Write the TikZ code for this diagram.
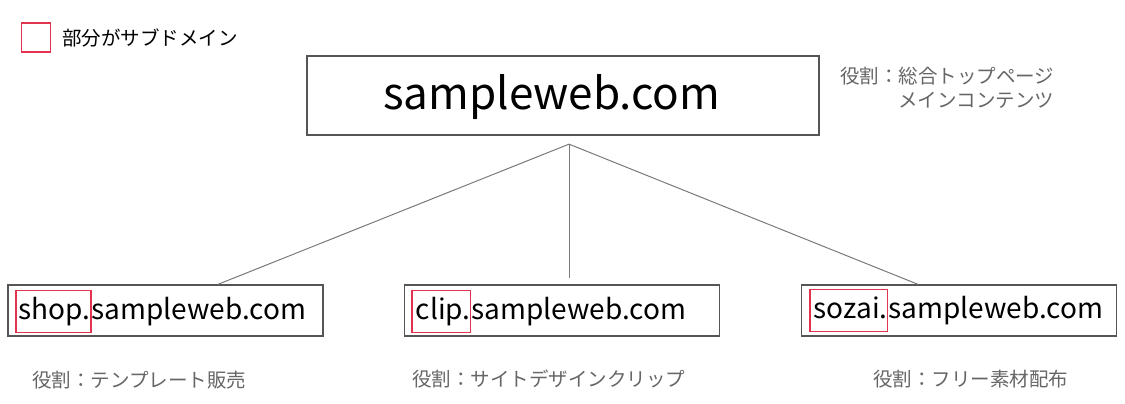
\documentclass[tikz,border=0pt]{standalone}
\usepackage{fontspec}
\setmainfont{Noto Sans CJK JP}
\usetikzlibrary{positioning}
\definecolor{subred}{HTML}{E3344F}
\definecolor{framegray}{HTML}{555555}
\definecolor{linkgray}{HTML}{7A7A7A}
\definecolor{notegray}{HTML}{666666}
\begin{document}
\begin{tikzpicture}[x=1pt,y=-1pt,
		sitebox/.style={draw=framegray,line width=1.3pt,minimum width=315pt,minimum height=51pt,inner sep=0pt},
		link/.style={draw=linkgray,line width=1pt},
		note/.style={text=notegray,inner sep=0pt,font=\fontsize{19.5}{24}\selectfont},
		subpart/.style={draw=subred,line width=1.6pt,inner xsep=0pt,inner ysep=0pt,minimum height=42pt,font=\fontsize{28}{34}\selectfont},
		domaintext/.style={inner sep=0pt,font=\fontsize{28}{34}\selectfont}]
		\useasboundingbox[fill=white] (0,0) rectangle (1125,404);
		% legend
		\node[draw=subred,line width=1.6pt,minimum size=29pt,inner sep=0pt] (key) at (36,37.5) {};
		\node[anchor=west,inner sep=0pt,font=\fontsize{19.5}{24}\selectfont] (keytext) at (62,38) {部分がサブドメイン};
		% main site
		\node[draw=framegray,line width=1.3pt,minimum width=512pt,minimum height=79pt,inner sep=0pt] (main) at (563,95.5) {};
		\node[anchor=base west,inner sep=0pt,font=\fontsize{44}{52}\selectfont] (maintext) at (383,109.5) {sampleweb.com};
		\node[note,anchor=west,align=right] (mainrole) at (840,88) {役割：総合トップページ\\メインコンテンツ};
		\coordinate (hub) at ([xshift=6pt,yshift=-8.5pt]main.south);
		% sub sites
		\node[sitebox] (shopbox) at (165.5,310.5) {};
		\node[sitebox] (clipbox) at (562,310.5) {};
		\node[sitebox] (sozaibox) at (959,310.5) {};
		\node[subpart,anchor=base west] (shop) at (15,319.5) {\kern3pt shop.\vphantom{hp}};
		\node[domaintext,anchor=base west] (shoprest) at (shop.base east) {sampleweb.com};
		\node[subpart,anchor=base west] (clip) at (411,319.5) {\kern4pt clip.\vphantom{hp}};
		\node[domaintext,anchor=base west] (cliprest) at (clip.base east) {sampleweb.com};
		\node[subpart,anchor=base west] (sozai) at (809,318.5) {\kern4pt sozai.\vphantom{hp}};
		\node[domaintext,anchor=base west] (sozairest) at (sozai.base east) {sampleweb.com};
		\node[note,anchor=west] (shoprole) at (32,380) {役割：テンプレート販売};
		\node[note,anchor=west] (cliprole) at (412,379) {役割：サイトデザインクリップ};
		\node[note,anchor=west] (sozairole) at (873,379) {役割：フリー素材配布};
		% links
		\draw[link] (hub) -- ([xshift=52.5pt]shopbox.north);
		\draw[link] (hub) -- ([xshift=7pt,yshift=6pt]clipbox.north);
		\draw[link] (hub) -- ([xshift=-41pt]sozaibox.north);
	\end{tikzpicture}
\end{document}
